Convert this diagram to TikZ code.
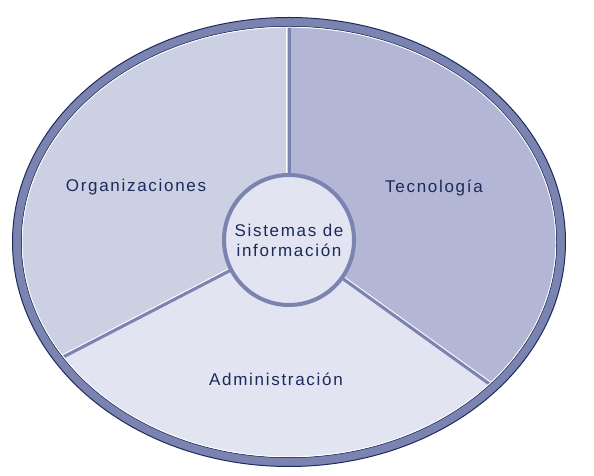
\documentclass[tikz,border=0pt]{standalone}
\usepackage{fontspec}
\setmainfont{Liberation Sans}[LetterSpace=10]
\usetikzlibrary{positioning,calc}
\definecolor{ringband}{HTML}{7B83B0}
\definecolor{ringedge}{HTML}{1E2C5C}
\definecolor{orgfill}{HTML}{CCD0E3}
\definecolor{tecfill}{HTML}{B3B7D5}
\definecolor{admfill}{HTML}{E3E4F1}
\definecolor{navytext}{HTML}{1B2A5A}
\tikzset{
  sectorlabel/.style={anchor=base,text=navytext,inner sep=0pt,
                      font=\fontsize{17}{20}\selectfont},
  divider/.style={draw=ringband,line width=3pt},
  highlight/.style={draw=white,line width=0.9pt},
  hubcircle/.style={circle,draw=ringband,fill=admfill,line width=4pt,
                    minimum size=130pt,inner sep=0pt,align=center,
                    text=navytext,font=\fontsize{17}{20}\selectfont}
}
\begin{document}
\begin{tikzpicture}[x=1pt,y=1pt]
    \path[use as bounding box] (0,0) rectangle (594,476);
    \coordinate (ec) at (289,234);
    \coordinate (mid) at (289,236);
    % sectors
    \begin{scope}
      \clip (ec) ellipse [x radius=267, y radius=215];
      \fill[admfill] (ec) ellipse [x radius=267, y radius=215];
      \fill[orgfill] (mid) -- ([shift={(mid)}]207.4:600) -- ([shift={(mid)}]150:600)
        -- ([shift={(mid)}]90:600) -- cycle;
      \fill[tecfill] (mid) -- ([shift={(mid)}]90:600) -- ([shift={(mid)}]30:600)
        -- ([shift={(mid)}]-35.7:600) -- cycle;
      \draw[highlight] ([shift={(mid)}]180:2.2) -- ++(90:600);
      \draw[highlight] ([shift={(mid)}]117.4:2.2) -- ++(207.4:600);
      \draw[highlight] ([shift={(mid)}]54.3:2.2) -- ++(-35.7:600);
      \draw[divider] (mid) -- ++(90:600);
      \draw[divider] (mid) -- ++(207.4:600);
      \draw[divider] (mid) -- ++(-35.7:600);
    \end{scope}
    % outer ring
    \draw[ringband,line width=9pt] (ec) ellipse [x radius=272, y radius=220];
    \draw[ringedge,line width=1pt] (ec) ellipse [x radius=276.5, y radius=224.5];
    \draw[ringedge,line width=0.8pt] (ec) ellipse [x radius=267.6, y radius=215.6];
    \draw[white,line width=0.9pt] (ec) ellipse [x radius=266.8, y radius=214.8];
    % labels
    \node[hubcircle] (sis) at (mid) {Sistemas de\\información};
    \node[sectorlabel] (org) at (136,284) {Organizaciones};
    \node[sectorlabel] (tec) at (434,283) {Tecnología};
    \node[sectorlabel] (adm) at (276,90) {Administración};
\end{tikzpicture}
\end{document}
